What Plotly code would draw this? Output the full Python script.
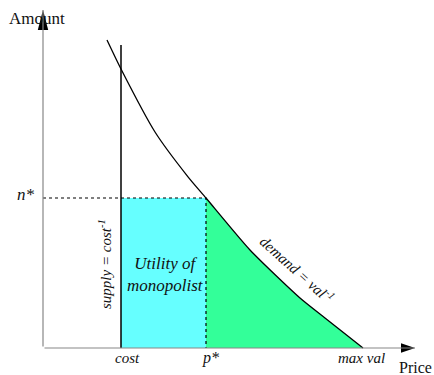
import plotly.graph_objects as go

# Data (price units, amount units)
demand_price = [1.6, 1.95, 2.8, 3.625, 4.075, 5.175, 6.425, 7.05, 8.0]
demand_amount = [7.7, 6.975, 5.4, 4.28, 3.75, 2.45, 1.25, 0.75, 0.0]
cost = 1.95
supply_top = 7.575
p_star = 4.075
n_star = 3.75
max_val = 8.0

SERIF = "Liberation Serif"
TXT = "#111111"

fig = go.Figure()

# Cyan rectangle (utility of monopolist)
fig.add_trace(go.Scatter(
    x=[cost, p_star, p_star, cost, cost], y=[0, 0, n_star, n_star, 0],
    mode="lines", fill="toself", fillcolor="#66FFFF",
    line=dict(width=0), hoverinfo="skip", showlegend=False))

# Green area under demand to the right of p*
gx = [p for p in demand_price if p >= p_star]
gy = [a for p, a in zip(demand_price, demand_amount) if p >= p_star]
fig.add_trace(go.Scatter(
    x=gx, y=gy, mode="lines", fill="tozeroy", fillcolor="#33FF99",
    line=dict(width=0, color="#33FF99", shape="spline", smoothing=0.6),
    hoverinfo="skip", showlegend=False))

# Demand curve
fig.add_trace(go.Scatter(
    x=demand_price, y=demand_amount, mode="lines",
    line=dict(color="black", width=1.3, shape="spline", smoothing=0.6),
    hoverinfo="skip", showlegend=False))

# Supply line
fig.add_trace(go.Scatter(
    x=[cost, cost], y=[0, supply_top], mode="lines",
    line=dict(color="black", width=1.5), hoverinfo="skip", showlegend=False))

# Dotted lines at n* and p*
fig.add_trace(go.Scatter(
    x=[0, p_star, p_star], y=[n_star, n_star, 0], mode="lines",
    line=dict(color="black", width=1.2, dash="dot"),
    hoverinfo="skip", showlegend=False))

# Axes with arrows
fig.add_annotation(x=0, y=8.45, ax=0, ay=0, xref="x", yref="y", axref="x", ayref="y",
                   showarrow=True, arrowhead=0, arrowwidth=1.2, arrowcolor="#888888", text="")
fig.add_annotation(x=9.3, y=0, ax=0, ay=0, xref="x", yref="y", axref="x", ayref="y",
                   showarrow=True, arrowhead=0, arrowwidth=1.2, arrowcolor="#888888", text="")
fig.add_shape(type="path", path="M -0.13,7.95 L 0.13,7.95 L 0,8.45 Z",
              fillcolor="black", line=dict(width=0))
fig.add_shape(type="path", path="M 8.95,-0.12 L 8.95,0.12 L 9.3,0 Z",
              fillcolor="black", line=dict(width=0))

def label(x, y, text, size=15, angle=0, italic=False, xanchor="center"):
    fig.add_annotation(x=x, y=y, xref="x", yref="y", text=text, showarrow=False,
                       textangle=angle, xanchor=xanchor, yanchor="middle",
                       font=dict(family=SERIF, size=size, color=TXT,
                                 style="italic" if italic else "normal"))

label(-0.15, 8.25, "Amount", 17)
label(9.3, -0.48, "Price", 16)
label(-0.42, 3.85, "n*", 17, italic=True)
label(cost + 0.15, -0.25, "cost", 15, italic=True)
label(p_star + 0.1, -0.25, "p*", 16, italic=True)
label(max_val - 0.05, -0.25, "max val", 15, italic=True)
label(1.55, 2.1, "supply = cost<sup>-1</sup>", 15, angle=-90, italic=True)
label(3.05, 1.85, "Utility of<br>monopolist", 17, italic=True)
label(6.35, 1.97, "demand = val<sup>-1</sup>", 15, angle=42, italic=True)

fig.update_layout(
    width=434, height=375, margin=dict(l=0, r=0, t=0, b=0),
    plot_bgcolor="white", paper_bgcolor="white",
    xaxis=dict(range=[-1.075, 9.775], visible=False, fixedrange=True),
    yaxis=dict(range=[-0.675, 8.7], visible=False, fixedrange=True),
)

fig.write_html("out.html", config={"displayModeBar": False},
               post_script="document.body.style.margin='0';document.body.style.overflow='hidden';")
